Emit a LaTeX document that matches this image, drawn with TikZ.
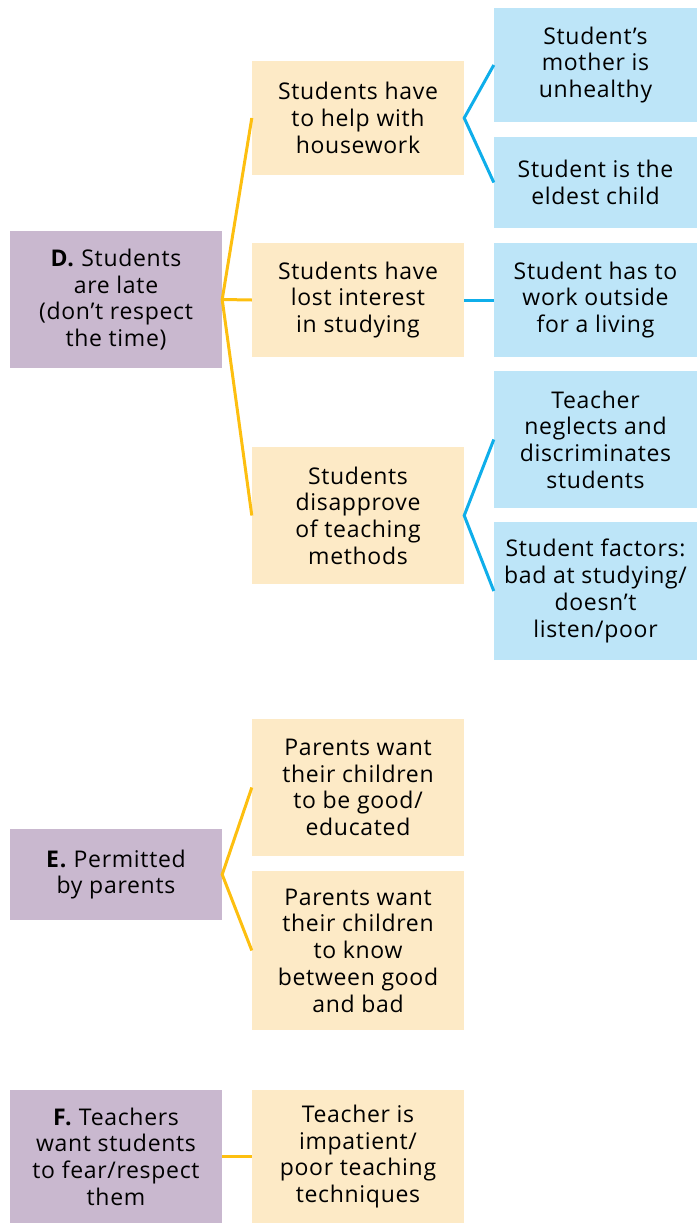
\documentclass[tikz,border=0pt]{standalone}
\usepackage{fontspec}
\setmainfont{Open Sans}[LetterSpace=3]
\usepackage{tikz}
\definecolor{causepurple}{HTML}{C9B8CF}
\definecolor{reasonorange}{HTML}{FDEAC6}
\definecolor{rootblue}{HTML}{BDE5F8}
\definecolor{lineorange}{HTML}{FDBF10}
\definecolor{lineblue}{HTML}{0FAEEA}
\tikzstyle{cause} = [rectangle, minimum width=212pt, inner sep=0pt, align=center, fill=causepurple]
\tikzstyle{reason} = [rectangle, minimum width=212pt, inner sep=0pt, align=center, fill=reasonorange]
\tikzstyle{root} = [rectangle, minimum width=203pt, inner sep=0pt, align=center, fill=rootblue]
\tikzstyle{branch} = [line width=3pt, draw=lineorange]
\tikzstyle{twig} = [line width=3pt, draw=lineblue]

\begin{document}
\begin{tikzpicture}[x=1pt, y=-1pt, font=\fontsize{23}{26.7}\selectfont]
\useasboundingbox (0,0) rectangle (697,1223);
\node (Late) [cause, minimum height=137pt] at (116,299.5) {\textbf{D.} Students\\are late\\(don’t respect\\the time)};
\node (Housework) [reason, minimum height=114pt] at (358,118) {Students have\\to help with\\housework};
\node (Interest) [reason, minimum height=114pt] at (358,300) {Students have\\lost interest\\in studying};
\node (Methods) [reason, minimum height=137pt] at (358,515.5) {Students\\disapprove\\of teaching\\methods};
\node (Mother) [root, minimum height=114pt] at (595.5,65) {Student’s\\mother is\\unhealthy};
\node (Eldest) [root, minimum height=91pt] at (595.5,182.5) {Student is the\\eldest child};
\node (Work) [root, minimum height=114pt] at (595.5,300) {Student has to\\work outside\\for a living};
\node (Neglect) [root, minimum height=137pt] at (595.5,439.5) {Teacher\\neglects and\\discriminates\\students};
\node (Factors) [root, minimum height=138pt] at (595.5,591) {Student factors:\\bad at studying/\\doesn’t\\listen/poor};

\node (Parents) [cause, minimum height=91pt] at (116,874.5) {\textbf{E.} Permitted\\by parents};
\node (Good) [reason, minimum height=137pt] at (358,787.5) {Parents want\\their children\\to be good/\\educated};
\node (Know) [reason, minimum height=159pt] at (358,950.5) {Parents want\\their children\\to know\\between good\\and bad};

\node (Fear) [cause, minimum height=133pt] at (116,1156.5) {\textbf{F.} Teachers\\want students\\to fear/respect\\them};
\node (Impatient) [reason, minimum height=133pt] at (358,1156.5) {Teacher is\\impatient/\\poor teaching\\techniques};

\draw [branch] (Housework.west) -- (Late.east) -- (Methods.west);
\draw [branch] (Late.east) -- (Interest.west);
\draw [twig] (Mother.west) -- (Housework.east) -- (Eldest.west);
\draw [twig] (Interest) -- (Work);
\draw [twig] (Neglect.west) -- (Methods.east) -- (Factors.west);
\draw [branch] (Good.west) -- (Parents.east) -- (Know.west);
\draw [branch] (Fear) -- (Impatient);
\end{tikzpicture}
\end{document}
